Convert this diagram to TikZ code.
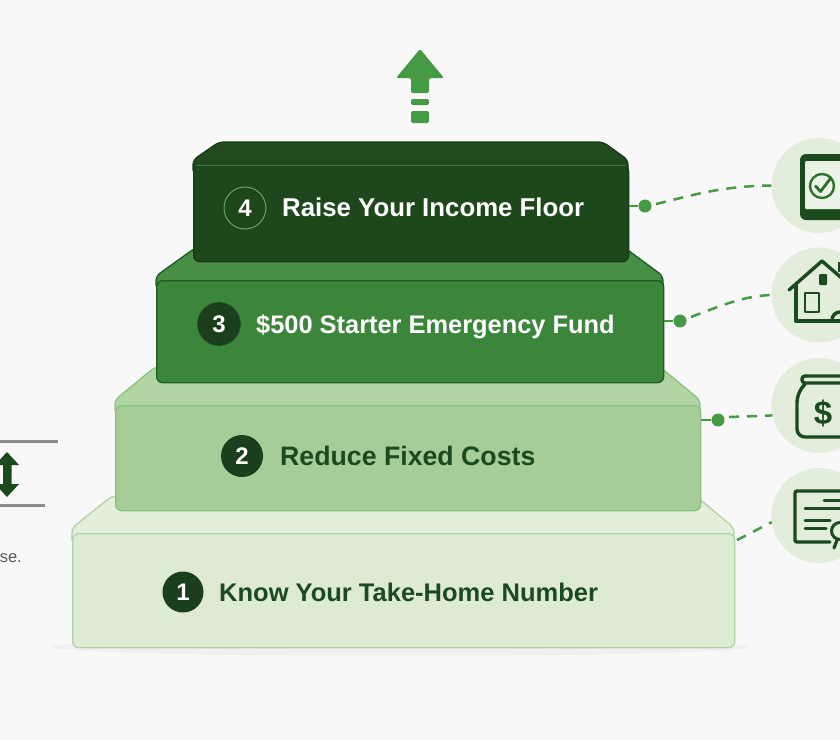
\documentclass[tikz,border=0pt]{standalone}
\usepackage{fontspec}
\setmainfont{Liberation Sans}
\usetikzlibrary{calc}
\definecolor{bgc}{HTML}{F8F8F8}
\definecolor{ink}{HTML}{1B4A1E}
\definecolor{badge}{HTML}{1B3F1C}
\definecolor{midg}{HTML}{469A43}
\definecolor{circ}{HTML}{E2EEDB}
\definecolor{fa}{HTML}{DDEBD3}\definecolor{ta}{HTML}{E3EEDB}\definecolor{ea}{HTML}{B2D2A5}
\definecolor{fb}{HTML}{A6CD97}\definecolor{tb}{HTML}{B2D5A4}\definecolor{eb}{HTML}{8CC07E}
\definecolor{fc}{HTML}{3C863B}\definecolor{tc}{HTML}{478F45}\definecolor{ec}{HTML}{1E5A22}
\definecolor{fd}{HTML}{1E471B}\definecolor{td}{HTML}{214B1E}\definecolor{ed}{HTML}{173A16}
\tikzset{
 front/.style={rectangle,rounded corners=6pt,inner sep=0pt,anchor=north west,line width=1.3pt},
 topface/.style={line width=1.3pt,rounded corners=5pt},
 badgec/.style={circle,fill=badge,text=white,inner sep=0pt,font=\bfseries\fontsize{24}{24}\selectfont},
 lbl/.style={anchor=base west,inner sep=0pt,font=\bfseries\fontsize{25.5}{26}\selectfont},
 conn/.style={midg,line width=2.5pt,dash pattern=on 10pt off 8pt},
 stub/.style={midg,line width=2.5pt},
 dotc/.style={circle,fill=midg,minimum size=13pt,inner sep=0pt},
 iconc/.style={circle,fill=circ,minimum size=95pt,inner sep=0pt},
 icon/.style={draw=ink,line width=3.4pt,line join=round,line cap=round},
 greybar/.style={draw=gray!90,line width=3pt},
}
\begin{document}
\begin{tikzpicture}[x=1pt,y=-1pt]
\useasboundingbox (0,0) rectangle (840,740);
\clip (0,0) rectangle (840,740);
\fill[bgc] (0,0) rectangle (840,740);
% ground shadow
\fill[black!7,opacity=.7] (400,647) ellipse (348 and 9);
% step 1
\filldraw[topface,draw=ea,fill=ta] (72,545) -- (72,528) -- (112,496) -- (696,496) -- (734,528) -- (734,545) -- cycle;
\node[front,draw=ea,fill=fa,minimum width=662pt,minimum height=114pt] (s1) at (72,533) {};
% step 2
\filldraw[topface,draw=eb,fill=tb] (115,415) -- (115,400) -- (155,367) -- (660,367) -- (700,400) -- (700,415) -- cycle;
\node[front,draw=eb,fill=fb,minimum width=585pt,minimum height=105pt] (s2) at (115,405) {};
% step 3
\filldraw[topface,draw=ec,fill=tc] (156,290) -- (156,276) -- (195,248) -- (625,248) -- (663,276) -- (663,290) -- cycle;
\node[front,draw=ec,fill=fc,minimum width=507pt,minimum height=102pt] (s3) at (156,280) {};
% step 4
\filldraw[topface,draw=ed,fill=td] (193,175) -- (193,160) -- (219,142) -- (603,142) -- (628,160) -- (628,175) -- cycle;
\node[front,draw=ed,fill=fd,minimum width=435pt,minimum height=96pt] (s4) at (193,165) {};
\draw[midg!70!fd,line width=1pt] (s4.north west) ++(3,0) -- ($(s4.north east)+(-3,0)$);
% badges and labels
\node[badgec,minimum size=41pt] (b1) at (183,592) {1};
\node[lbl,text=ink] (l1) at (219,601) {Know Your Take-Home Number};
\node[badgec,minimum size=42pt] (b2) at (242,456) {2};
\node[lbl,text=ink,font=\bfseries\fontsize{26.7}{27}\selectfont] (l2) at (280,465.5) {Reduce Fixed Costs};
\node[badgec,minimum size=44pt,draw=midg!60!badge,line width=.7pt] (b3) at (219,324) {3};
\node[lbl,text=white,font=\bfseries\fontsize{25.4}{26}\selectfont] (l3) at (256,333) {\$500 Starter Emergency Fund};
\node[badgec,minimum size=42pt,fill=fd,draw=midg!85!white,line width=1pt] (b4) at (245,208) {4};
\node[lbl,text=white,font=\bfseries\fontsize{25.8}{26}\selectfont] (l4) at (282,216) {Raise Your Income Floor};
% top arrow
\fill[midg,rounded corners=1.5pt] (420,49) -- (444,78) -- (429,78) -- (429,93) -- (411,93) -- (411,78) -- (396,78) -- cycle;
\fill[midg,rounded corners=2pt] (411,99) rectangle (429,105);
\fill[midg,rounded corners=2pt] (411,111) rectangle (429,123);
% icon circles
\node[iconc] (c1) at (819,185.5) {};
\node[iconc] (c2) at (819,295) {};
\node[iconc] (c3) at (819,405.5) {};
\node[iconc] (c4) at (819,515.5) {};
% connectors
\node[dotc] (d1) at (645,206) {};
\node[dotc] (d2) at (680,321) {};
\node[dotc] (d3) at (718,420) {};
\coordinate (e4) at (737,540);
\draw[stub] (s4.east |- d1) -- (d1);
\draw[stub] (s3.east |- d2) -- (d2);
\draw[stub] (s2.east |- d3) -- (d3);
\draw[conn] (d1) ++(11,-2) .. controls (690,196) and (720,186) .. (c1.west);
\draw[conn] (d2) ++(11,-4) .. controls (725,304) and (745,296) .. (c2.west);
\draw[conn] (d3) ++(11,-3) -- (c3.192);
\draw[conn] (e4) -- (c4.188);
% tablet
\fill[ink,rounded corners=6pt] (800,154) rectangle (860,220);
\fill[circ!70!white,rounded corners=1pt] (805,161) rectangle (860,209);
\draw[midg!50!ink,line width=2.4pt] (822,186) circle (12);
\draw[midg!40!ink,line width=2.8pt,line cap=round,line join=round] (815.5,186) -- (820.5,191.5) -- (830,179);
% house
\draw[icon] (789,290) -- (822,261) -- (860,294);
\draw[icon] (796,284) -- (796,321) -- (845,321);
\draw[icon,line width=2.8pt] (805,293) rectangle (819,312);
\fill[ink,rounded corners=1pt] (819,274) rectangle (827,285);
\draw[icon] (832,320) arc (180:360:8 and 8);
\fill[ink] (838,262) rectangle (842,272);
% jar
\draw[icon,rounded corners=3pt] (860,376) -- (802,376) -- (802,383) -- (860,383);
\draw[icon,rounded corners=8pt] (805,384) -- (797,394) -- (797,437) -- (860,437);
\node[text=ink,inner sep=0pt,font=\bfseries\fontsize{33}{33}\selectfont] (dollar) at (823,413) {\$};
% certificate
\draw[icon,rounded corners=2pt] (830,542) -- (795,542) -- (795,491) -- (860,491);
\draw[icon,line width=3pt] (824,500) -- (860,500);
\draw[icon,line width=3pt] (805,508) -- (860,508);
\draw[icon,line width=3pt] (805,520) -- (830,520);
\draw[icon,line width=3pt] (805,528) -- (826,528);
\draw[icon,line width=3pt,fill=circ] (840,531) circle (8.5);
\draw[icon,line width=3.2pt] (837,540) -- (834,548);
% left fragment
\draw[greybar] (0,441) -- (58,441);
\draw[greybar] (0,505) -- (45,505);
\fill[ink] (7,452) -- (19,465) -- (11.5,465) -- (11.5,484) -- (19,484) -- (7,497) -- (-5,484) -- (3,484) -- (3,465) -- (-5,465) -- cycle;
\node[anchor=east,inner sep=0pt,text=black!65,font=\fontsize{16.5}{17}\selectfont] (frag) at (22,558) {se.};
\end{tikzpicture}
\end{document}
